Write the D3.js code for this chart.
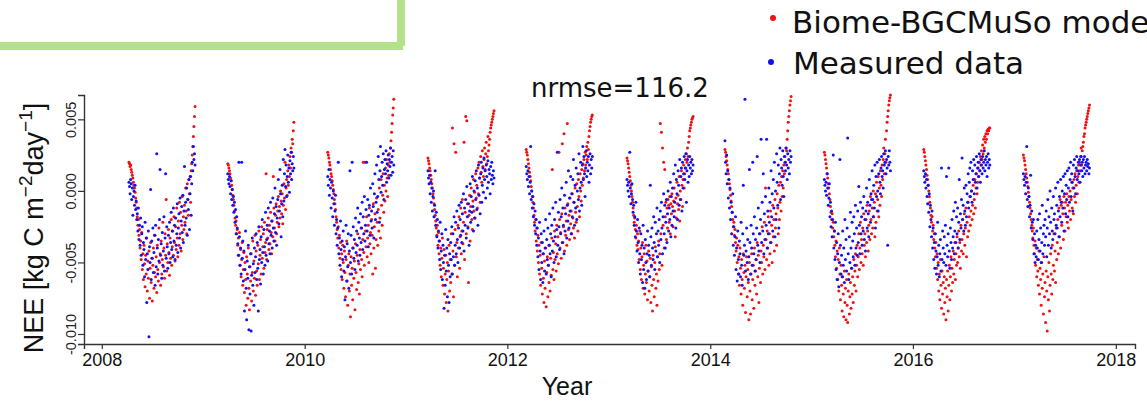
<!DOCTYPE html>
<html>
<head>
<meta charset="utf-8">
<script src="https://cdn.jsdelivr.net/npm/d3@7"></script>
<style>
  html, body { margin: 0; padding: 0; background: #fff; overflow: hidden; }
  svg { display: block; }
</style>
</head>
<body>
<svg id="chart" width="1147" height="401"></svg>
<script>
// Daily NEE, model vs. measured, one block per growing season.
// Values are in 1e-4 kg C m-2 day-1; samples are every stepDays days from the season start.
const stepDays = 2;
const valueUnit = 1e-4;
const seasonStarts = ["2008-04-08","2009-03-30","2010-03-25","2011-03-21","2012-03-09",
                      "2013-03-07","2014-02-23","2015-02-16","2016-02-09","2017-02-02"];

const model2008 = [20,19,17,18,15,13,11,9,6,4, 2,-1,-5,-8,-12,-18,-24,-20,-31,-27,
  -40,-35,-48,-29,-55,-44,-62,-38,-51,-67, -45,-58,-33,-70,-49,-61,-42,-75,-54,-36,
  -64,-47,-77,-52,-40,-68,-57,-31,-60,-46, -71,-38,-55,-63,-26,-50,-44,-66,-35,-58,
  -48,-22,-53,-40,-61,-30,-45,-6,-56,-37, -50,-27,-43,-59,-33,-47,-20,-52,-39,-28,
  -45,-18,-36,-49,-25,-41,-12,-33,-46,-21, -38,-8,-30,-15,-42,-24,-4,-34,-18,-27,
  -10,-22,2,-14,-30,5,-6,-17,8,-2, 10,-8,14,19,25,31,38,45,52,59];
const measured2008 = [6,3,-2,8,5,-6,2,-17,-4,0, -10,4,-13,-7,-20,-16,-28,-12,-34,-24,
  -38,-19,-45,-30,-25,-52,-36,-41,-60,-22, -48,-33,-78,-44,-55,-28,-102,-39,-50,1,
  -62,-35,-47,-26,-57,-43,-31,-66,-24,-53, 26,-40,-58,-34,-49,-20,15,-45,-37,-61,
  -29,-52,-42,-18,-56,-33,12,-47,-25,-39, -54,-31,-44,-22,-50,-36,-15,-41,-28,-46,
  -12,-35,-24,-48,-19,-38,-30,-9,-43,-26, -16,-33,-5,-40,-21,-11,-29,-3,-36,-14,
  17,-24,-8,-19,2,-31,-6,-13,8,-27, -2,10,-17,5,20,14,31,22,26,18];

const model2009 = [19,18,16,14,12,9,7,4,1,-3, -6,-10,-14,-19,-24,-21,-30,-27,-38,-33,
  -45,-29,-52,-41,-60,-48,-36,-66,-55,-43, -71,-50,-62,-80,-46,-58,-75,-40,-68,-83,
  -53,-63,-44,-77,-57,-35,-70,-49,-61,-31, -73,-42,-56,-66,-38,-51,-28,-62,-45,-34,
  -58,-25,-47,-39,-30,-54,-22,-43,-36,12, -48,-27,-33,-19,-41,-24,-37,-15,-29,-44,
  -21,-32,10,-12,-26,-35,-17,-9,-30,-22, -14,-4,-25,-11,-19,0,-7,-16,-2,-23,
  -10,5,-5,20,-13,2,8,-3,14,4, 18,10,24,16,30,27,36,33,42,48];
const measured2009 = [12,8,5,10,3,-2,7,-6,1,-10, -4,-15,-8,-22,-13,-30,-18,-26,-37,-45,
  20,-32,-52,-40,-58,20,-47,-35,-63,-42, -84,-55,-28,-68,-90,-49,-61,-38,-97,-53,
  -72,-44,-98,-59,-33,-66,-51,-80,-40,-57, -46,-30,-62,-36,-54,-84,-25,-48,-41,-65,
  -32,-50,-20,-43,-58,-27,-39,-52,-15,-45, -34,-24,-49,-12,-37,-28,-44,-8,-31,-21,
  -40,-5,-26,-35,-16,2,-29,-11,-38,-19, -6,8,-23,-14,15,-2,-32,-9,4,-18,
  22,-7,12,29,3,18,-4,10,25,6, 16,-1,21,12,27,8,19,14,24,16];

const model2010 = [27,25,23,20,18,15,12,10,7,4, 1,-2,-6,-9,-13,-18,-22,-27,-33,-25,
  -40,-31,-47,-36,-55,-44,-62,-38,-50,-68, -42,-57,-74,-48,-35,-63,-80,-52,-44,-70,
  -58,-88,-46,-66,-54,-76,-40,-61,-49,-83, -37,-57,-69,-45,-30,-64,-51,-72,-41,-55,
  -26,-48,-60,-34,20,-43,-52,20,-28,-39, -18,-46,-33,-24,-50,-12,-37,-29,-44,-20,
  -31,-58,-9,-40,-25,-16,-54,-34,-5,-22, -38,-13,-28,2,-19,-33,8,-10,-24,-3,
  12,-15,4,-7,16,0,22,9,-4,18, 11,26,20,30,35,41,47,53,58,64];
const measured2010 = [10,4,15,-3,8,2,-12,6,-5,-18, 0,-9,-24,-14,-3,-30,-20,-38,-26,20,
  -44,-33,-52,-21,-41,-60,-35,-48,-28,-56, -39,-76,-46,-24,-63,-37,-53,-30,-68,-42,
  14,-50,-31,-58,20,-40,-25,-47,-34,-55, -19,-43,-28,-38,-12,-49,-22,-33,-45,-16,
  -36,-26,-8,-41,-18,-30,-4,-35,-24,-13, 20,-28,-6,-39,-17,-10,-31,2,-21,-14,
  -26,5,-11,-33,-2,12,-20,-8,18,-15, -4,24,8,-22,14,31,-1,10,20,4,
  26,-6,15,22,12,28,6,19,14,25, 9,22,17,30,11,20,24,13,28,18];

const model2011 = [23,21,19,16,14,11,8,5,2,-2, -5,-9,-13,-17,-21,-26,-31,-24,-38,-29,
  -44,-35,-52,-40,-60,-47,-33,-66,-54,-41, -72,-58,-45,-78,-62,-50,-84,-56,-38,-70,
  -48,-64,-30,-58,44,-42,-74,33,-52,-27, 27,-46,-36,-60,-24,-40,-18,-54,-32,-12,
  -44,-28,-6,-37,-22,34,-48,-15,52,-30, 49,-9,-25,-64,-17,-3,-35,-11,2,-20,
  -27,-7,8,-14,-1,-19,12,-5,4,-12, 16,-2,20,9,-8,24,13,6,28,17,
  10,22,30,15,26,34,19,24,38,28, 32,36,41,44,46,48,50,52,54,56];
const measured2011 = [14,9,5,11,-2,6,-8,2,-14,-4, 0,-18,-10,14,-24,-15,-32,-20,-40,-28,
  -35,-48,-22,-55,-42,-30,-62,-38,-50,-82, -45,-66,-27,-56,-40,-74,-34,-52,-78,-44,
  -60,-36,-48,-25,-58,-30,-46,-18,-52,-38, -22,-44,-14,-34,-50,-26,-10,-40,-20,-31,
  -8,-36,-16,-28,-2,-42,-12,-24,-6,-33, 3,-18,-26,-9,-38,-14,5,-22,-4,-15,
  10,-11,-28,0,-19,7,-6,14,-13,2, -24,18,-3,9,-16,12,20,-8,4,16,
  -1,23,8,14,-5,18,10,2,21,6, 15,12,-2,17,8,20,11,5,14,9];

const model2012 = [29,27,25,22,19,16,13,10,7,3, 0,-4,-8,-12,-17,-22,-28,-20,-35,-26,
  -42,-31,-50,-38,-58,-45,-66,-36,-54,-72, -44,-61,-78,-49,-68,-40,-81,-57,-46,-74,
  -52,-64,-38,-70,-47,-59,-33,15,-55,-43, -62,-28,-48,-37,-56,-24,-44,-32,-51,27,
  -20,-40,-29,-47,-16,33,-36,-25,40,-42, -12,-31,-21,-38,47,-9,-27,-17,-34,-5,
  -23,-14,-30,-2,-19,-26,-8,-33,2,-15, -22,5,-11,-28,8,-4,-18,12,0,-7,
  15,4,19,9,22,14,27,18,25,31, 22,34,29,38,42,45,48,50,52,53];
const measured2012 = [17,12,8,14,3,10,-2,6,31,-6, 0,-12,-4,-18,-9,-24,-14,-30,-20,-38,
  -26,-46,-33,-55,-22,-42,-62,-30,-50,-36, -64,-44,-28,-56,-40,-20,-58,-34,-48,-26,
  -52,-38,-16,-44,-30,-60,-24,-42,-12,-35, -50,-20,-32,-8,-46,-27,27,-38,-15,-25,
  -41,-6,-30,-18,2,-36,-12,-24,-44,-3, -28,-16,6,-33,-10,-21,14,-26,-5,-14,
  10,-30,-2,-18,8,22,-8,-24,4,-12, 16,-20,0,12,-6,26,-14,2,20,6,
  -10,18,31,8,24,12,-4,16,28,10, 20,14,24,6,18,26,12,22,16,24];

const model2013 = [23,21,19,16,13,10,7,4,0,-4, -8,-12,-17,-22,-19,-27,-33,-24,-38,-30,
  -41,-35,-48,-28,-55,-40,-62,-46,-36,-68, -52,-44,-72,-58,-38,-64,-49,-76,-56,-42,
  -70,-60,-47,-78,-53,-66,-84,-45,-62,-74, -50,-39,-68,-58,-80,-46,-63,-35,-55,-44,
  47,-30,41,-52,30,-24,20,-40,15,-18, -8,-34,-12,-26,-6,-10,-22,-4,-30,-9,
  -16,-2,-11,-25,-7,2,-14,-32,-5,-19, 6,-9,-3,-13,10,-21,0,-6,14,4,
  -11,8,18,2,12,22,16,26,20,30, 24,34,38,42,44,46,48,50,51,52];
const measured2013 = [8,4,0,6,-4,27,2,-9,-2,5, -6,-15,-10,-24,-18,-32,-8,-28,-42,-20,
  -36,-50,-26,-44,-58,-30,-48,-38,-64,-24, -55,-40,-68,-34,-50,-62,-44,-28,-56,-38,
  -45,-60,4,-32,-52,-26,-40,-48,-18,-36, -55,-22,-42,-30,-12,-46,-28,-38,-20,-50,
  -14,-34,-8,-26,-44,-18,-2,-30,-10,-40, -22,-6,-36,-16,0,-28,-12,-20,6,-32,
  -4,-24,2,-14,12,-18,-8,18,-26,8, -2,-20,14,4,-10,22,-6,10,16,-14,
  20,2,12,24,8,16,26,-8,14,22, 6,18,10,24,16,20,12,22,14,18];

const model2014 = [29,27,24,21,18,15,12,8,5,1, -3,-7,-11,-15,-20,-25,-22,-31,-27,-36,
  -42,-33,-50,-38,-58,-46,-66,-40,-54,-72, -48,-62,-80,-44,-57,-68,-52,-85,-60,-46,
  -74,-55,-64,-90,-50,-70,-86,-58,-44,-76, -62,-52,-82,-40,-66,-56,-48,-72,-36,-60,
  -45,-78,-54,-30,-64,-42,-50,-25,-58,-38, -46,-22,-55,2,-34,-48,-28,-40,-18,-52,
  -30,-44,-14,-36,-24,-50,-10,-32,-20,-42, -6,-26,-16,-38,-2,-12,-30,4,-20,-8,
  6,-14,10,-4,14,2,18,12,24,20, 30,28,36,42,48,52,56,60,63,66];
const measured2014 = [35,20,12,25,5,14,-5,8,-12,2, -20,-8,-30,-15,-2,-38,-25,-45,-32,-18,
  -55,-40,-63,-28,-48,-58,-35,-44,-60,-22, -52,-66,-30,4,-45,-38,64,-56,-42,-26,
  -50,-34,-62,-46,15,-36,-58,-24,-40,-52, 20,-30,-44,-18,-56,-34,-48,-26,24,-38,
  -12,-42,-30,-50,-20,36,-36,-8,-28,12, -44,-16,-34,-4,-24,36,-40,-14,-30,2,
  -22,-8,-36,14,-18,-2,-28,8,-12,20, -32,0,-20,26,6,-10,18,-26,12,30,
  -6,22,16,4,28,10,-4,24,20,14, 30,18,8,26,16,22,12,28,20,24];

const model2015 = [27,25,22,19,16,12,9,5,2,-2, -6,-11,-15,-20,-16,-26,-22,-32,-28,-38,
  -46,-35,-54,-42,-62,-48,-70,-40,-58,-76, -52,-66,-84,-60,-72,-88,-56,-78,-68,-90,
  -62,-80,-92,-70,-58,-86,-74,-64,-82,-54, -72,-60,-78,-48,-66,-56,-44,-70,-52,-38,
  -60,-46,-30,-55,-40,-22,-50,-34,-44,-26, -52,-16,-38,-30,-46,-20,-36,-10,-28,-42,
  -24,-14,-34,-4,-20,-30,-12,-26,0,-18, -8,-32,-2,-22,6,-14,-6,10,-18,2,
  -10,14,4,-4,18,8,22,30,12,26, 36,20,42,48,52,56,60,63,65,67];
const measured2015 = [8,4,0,6,-3,12,2,-10,-5,5, -18,-8,-25,-14,-32,-20,25,-40,-28,-48,
  -22,-55,-36,-62,-44,-30,-67,-50,22,-38, -58,-45,-60,-28,-52,-40,-64,-20,-48,-34,
  -56,-26,37,-44,-62,-32,-50,-15,-40,-54, -22,-35,-46,-18,-30,-52,-10,-40,-26,-45,
  -14,-36,3,-24,-44,-8,-30,-18,-38,-12, -28,-4,-34,-20,-42,-14,2,-26,-8,-16,
  -32,8,-10,-22,-2,-6,14,-6,-18,4, -12,18,-26,10,-4,20,0,-14,12,22,
  6,-2,16,24,10,14,2,26,18,20, 28,12,22,16,-38,24,18,28,20,14];

const model2016 = [29,27,24,21,18,15,11,8,4,0, -4,-8,-12,-17,-22,-18,-28,-24,-34,-30,
  -40,-46,-36,-54,-44,-62,-50,-70,-58,-76, -48,-66,-82,-56,-72,-64,-86,-60,-78,-68,
  -90,-62,-74,-56,-84,-66,-52,-76,-60,-46, -70,-54,-64,-42,-58,-48,-36,-62,-44,-52,
  -32,-50,-40,-28,-46,-36,-54,-24,-42,-34, -20,-44,-30,-16,-38,-26,-12,-46,-22,-32,
  -8,-28,-18,-4,-24,-14,0,-20,-10,4, -16,-6,8,-12,2,12,-2,6,16,10,
  20,14,24,18,28,22,32,26,36,30, 38,34,40,36,42,40,43,42,44,44];
const measured2016 = [14,10,6,12,2,8,-4,-9,4,-15, -2,-25,-10,-20,-32,-14,-40,-26,-48,-36,
  -54,-30,-42,-58,-46,-22,-52,-38,-60,-44, -34,-56,16,-48,-28,-40,-50,-32,-44,-24,
  -52,10,-38,-46,-30,16,-42,-54,-26,-36, -48,-20,-40,-32,-14,-44,-28,-8,-36,-18,
  -30,-12,-40,-22,8,-34,-16,-26,-6,23, -20,-10,-28,2,-14,-24,4,-18,-2,-8,
  12,-12,6,16,-4,20,0,-8,14,8, 22,-2,18,6,12,24,2,16,20,10,
  26,14,6,22,18,12,24,16,20,28, 14,22,18,24,10,20,26,16,22,18];

const model2017 = [25,23,21,18,15,12,9,6,3,-1, -4,-8,-12,-16,-20,-24,-28,-33,-26,-38,
  -44,-35,-52,-40,-60,-48,-56,-66,-42,-72, -54,-62,-80,-50,-68,-58,-86,-46,-74,-64,
  -92,-56,-70,-98,-60,-76,-50,-84,-66,-44, -58,-72,-38,-62,-52,-30,-56,-42,-64,-26,
  -48,-36,-20,-44,-12,-32,-6,-40,-10,-24, -8,-16,-34,-4,-12,-28,-8,-18,-2,-22,
  -10,-26,-4,-14,0,-20,-6,6,-12,2, -16,8,-4,12,-8,4,14,-2,10,18,
  6,20,14,24,30,18,28,31,34,38, 40,44,46,48,50,52,54,56,58,60];
const measured2017 = [12,8,4,10,-2,6,31,-6,-11,2, -4,-18,-10,11,-26,-14,-22,-34,-20,-44,
  -30,-50,-38,-46,-28,-40,-20,-48,-34,-16, -42,-26,-50,-36,-10,-44,-30,-24,-38,-20,
  -32,-14,-46,-26,-6,-38,-18,-30,0,-22, -40,-12,-28,-34,-4,-20,-16,-30,2,-24,
  -10,-26,6,-14,-32,-4,-18,8,-8,-22, 0,-12,10,-28,-2,12,-16,4,-6,14,
  -18,2,16,-8,8,20,-4,12,6,-14, 18,2,22,10,-2,16,24,8,14,20,
  12,22,6,18,24,14,20,10,22,16, 24,12,18,20,14,22,17,19,12,16];

const modelSeries = [model2008, model2009, model2010, model2011, model2012,
                     model2013, model2014, model2015, model2016, model2017];
const measuredSeries = [measured2008, measured2009, measured2010, measured2011, measured2012,
                        measured2013, measured2014, measured2015, measured2016, measured2017];

const xTickYears = [2008, 2010, 2012, 2014, 2016, 2018];
const yTickValues = [-0.010, -0.005, 0.000, 0.005];
const legendLabels = ["Biome-BGCMuSo model", "Measured data"];
const fitLabel = "nrmse=116.2";

// Build date/value rows for both series
const parseDate = d3.timeParse("%Y-%m-%d");
function rows(seriesList) {
  const out = [];
  seriesList.forEach((vals, s) => {
    const start = parseDate(seasonStarts[s]);
    vals.forEach((v, i) => out.push({ date: d3.timeDay.offset(start, i * stepDays), nee: v * valueUnit }));
  });
  return out;
}
const modelRows = rows(modelSeries);
const measuredRows = rows(measuredSeries);

const svg = d3.select("#chart");

// Scales
const x = d3.scaleTime()
  .domain([new Date(2007, 9, 29), new Date(2018, 2, 11)])
  .range([84, 1135]);
const y = d3.scaleLinear()
  .domain([-0.0107, 0.0067])
  .range([344, 95]);

// Decorative frame corner at the top left
svg.append("rect").attr("x", 0).attr("y", 42).attr("width", 403).attr("height", 8).attr("fill", "#b5e18b");
svg.append("rect").attr("x", 397).attr("y", 0).attr("width", 8).attr("height", 46).attr("fill", "#b5e18b");

// Axes
const xAxis = d3.axisBottom(x)
  .tickValues(xTickYears.map(yr => new Date(yr, 0, 1)))
  .tickFormat(d3.timeFormat("%Y"))
  .tickSizeOuter(0)
  .tickSize(5)
  .tickPadding(4);
const gx = svg.append("g").attr("transform", "translate(0,344)").call(xAxis);
gx.select(".domain").attr("stroke", "#333").attr("stroke-width", 1.4);
gx.selectAll(".tick line").attr("stroke", "#333").attr("stroke-width", 1.2);
gx.selectAll(".tick text")
  .attr("fill", "#111")
  .style("font-family", "'Liberation Sans', Arial, sans-serif")
  .style("font-size", "18px");

const yAxis = d3.axisLeft(y)
  .tickValues(yTickValues)
  .tickFormat(v => v.toFixed(3))
  .tickSizeOuter(0)
  .tickSize(6);
const gy = svg.append("g").attr("transform", "translate(84,0)").call(yAxis);
gy.select(".domain").attr("stroke", "#333").attr("stroke-width", 1.4);
gy.selectAll(".tick line").attr("stroke", "#333").attr("stroke-width", 1.2);
gy.selectAll(".tick text")
  .attr("transform", "rotate(-90)")
  .attr("x", 0)
  .attr("y", -8)
  .attr("dy", 0)
  .attr("text-anchor", "middle")
  .attr("fill", "#222")
  .style("font-family", "'Liberation Sans', Arial, sans-serif")
  .style("font-size", "14.5px");

// Axis titles
svg.append("text")
  .attr("x", 567).attr("y", 395)
  .attr("text-anchor", "middle")
  .style("font-family", "'Liberation Sans', Arial, sans-serif")
  .style("font-size", "25px")
  .attr("fill", "#111")
  .text("Year");

const yTitle = svg.append("text")
  .attr("transform", "translate(43,228) rotate(-90)")
  .attr("text-anchor", "middle")
  .style("font-family", "'Liberation Sans', Arial, sans-serif")
  .style("font-size", "27px")
  .attr("fill", "#111");
yTitle.append("tspan").text("NEE [kg C m");
yTitle.append("tspan").attr("dy", -11).style("font-size", "19px").text("\u22122");
yTitle.append("tspan").attr("dy", 11).text("day");
yTitle.append("tspan").attr("dy", -11).style("font-size", "19px").text("\u22121");
yTitle.append("tspan").attr("dy", 11).text("]");

// Points: model first, measurements on top
const plot = svg.append("g");
plot.selectAll("circle.model").data(modelRows).join("circle")
  .attr("class", "model")
  .attr("cx", d => x(d.date)).attr("cy", d => y(d.nee))
  .attr("r", 1.5).attr("fill", "#f01010");
plot.selectAll("circle.measured").data(measuredRows).join("circle")
  .attr("class", "measured")
  .attr("cx", d => x(d.date)).attr("cy", d => y(d.nee))
  .attr("r", 1.5).attr("fill", "#1010f0");

// Fit statistic
svg.append("text")
  .attr("x", 531).attr("y", 97)
  .style("font-family", "'DejaVu Sans', sans-serif")
  .style("font-size", "26px")
  .attr("fill", "#111")
  .text(fitLabel);

// Legend
const legendColors = ["#f01010", "#1010f0"];
const legend = svg.append("g");
legendLabels.forEach((lab, i) => {
  legend.append("circle")
    .attr("cx", i === 0 ? 773 : 771).attr("cy", i === 0 ? 18 : 62)
    .attr("r", 3).attr("fill", legendColors[i]);
  legend.append("text")
    .attr("x", i === 0 ? 792 : 793).attr("y", i === 0 ? 33 : 74)
    .style("font-family", "'DejaVu Sans', sans-serif")
    .style("font-size", "31px")
    .attr("fill", "#111")
    .text(lab);
});
</script>
</body>
</html>
